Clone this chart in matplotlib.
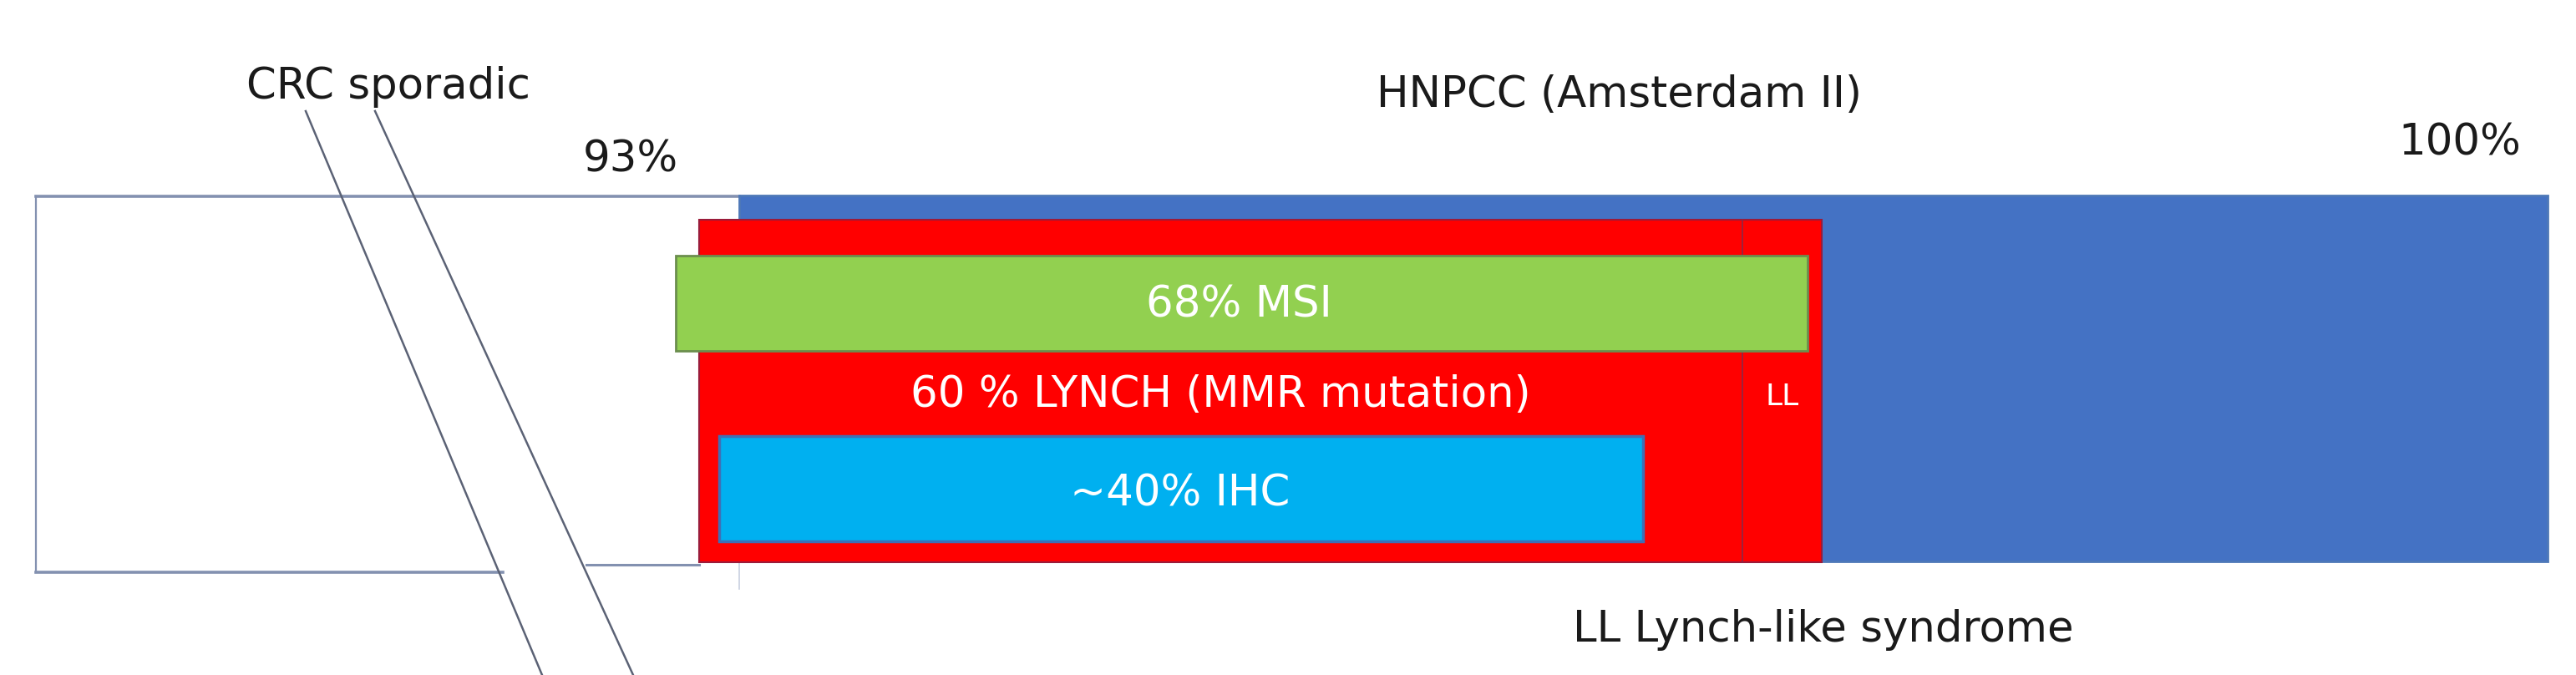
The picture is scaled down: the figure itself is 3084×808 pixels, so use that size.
import matplotlib
matplotlib.use("Agg")
import matplotlib.pyplot as plt
from matplotlib.patches import Rectangle

# labels / values
group_names = ["CRC sporadic", "HNPCC (Amsterdam II)"]
cum_pct = ["93%", "100%"]
inner_labels = ["68% MSI", "60 % LYNCH (MMR mutation)", "~40% IHC"]
ll_short = "LL"
ll_note = "LL Lynch-like syndrome"

# layout in pixel units (x0, x1, y0, y1), y grows downward
W, H = 3084, 808
blue_box = (885, 3050, 234, 672)
red_box = (837, 2181, 263, 673)
ll_split = 2086
green_box = (809, 2164, 306, 420)
cyan_box = (861, 1967, 522, 648)

fig = plt.figure(figsize=(W / 100, H / 100), dpi=100)
ax = fig.add_axes([0, 0, 1, 1])
ax.set_xlim(0, W)
ax.set_ylim(H, 0)
ax.axis("off")


def box(b, fc, ec, lw, z):
    x0, x1, y0, y1 = b
    ax.add_patch(Rectangle((x0, y0), x1 - x0, y1 - y0, facecolor=fc,
                           edgecolor=ec, linewidth=lw, zorder=z))


# the sporadic (white) part, with a broken bottom edge
line_c = "#8391b0"
ax.plot([43, 885], [235, 235], color=line_c, lw=2.6, zorder=1)
ax.plot([43, 43], [235, 685], color=line_c, lw=1.6, zorder=1)
ax.plot([43, 602], [685, 685], color=line_c, lw=2.6, zorder=1)
ax.plot([702, 837], [676, 676], color=line_c, lw=2.2, zorder=1)
ax.plot([885, 885], [672, 705], color="#c8d0e0", lw=1.2, zorder=1)

box(blue_box, "#4472C4", "#4d78b8", 2, 2)
box(red_box, "#FF0000", "#9b1b3a", 1.5, 3)
ax.plot([ll_split, ll_split], [red_box[2], red_box[3]], color="#8a2848", lw=1.2, zorder=3.5)
box(green_box, "#92D050", "#6b8e4e", 2, 4)
box(cyan_box, "#00B0F0", "#3f6fb5", 2.5, 4)

fs = 37
txt = dict(ha="center", va="baseline", fontsize=fs, zorder=5)
ax.text(1483, 380, inner_labels[0], color="white", **txt)
ax.text(1461, 487, inner_labels[1], color="white", **txt)
ax.text(1413, 605, inner_labels[2], color="white", **txt)
ax.text(2134, 485, ll_short, color="white", ha="center", va="baseline",
        fontsize=26, zorder=5)

ax.text(465, 118, group_names[0], color="#1a1a1a", **txt)
ax.text(1939, 128, group_names[1], color="#1a1a1a", **txt)
ax.text(755, 205, cum_pct[0], color="#1a1a1a", **txt)
ax.text(2945, 186, cum_pct[1], color="#1a1a1a", **txt)
ax.text(2183, 768, ll_note, color="#1a1a1a", **txt)

# break marks across the sporadic part
ax.plot([366, 649], [133, 808], color="#5b6275", lw=1.8, zorder=6)
ax.plot([449, 758], [133, 808], color="#5b6275", lw=1.8, zorder=6)

fig.savefig("out.png", dpi=100)
